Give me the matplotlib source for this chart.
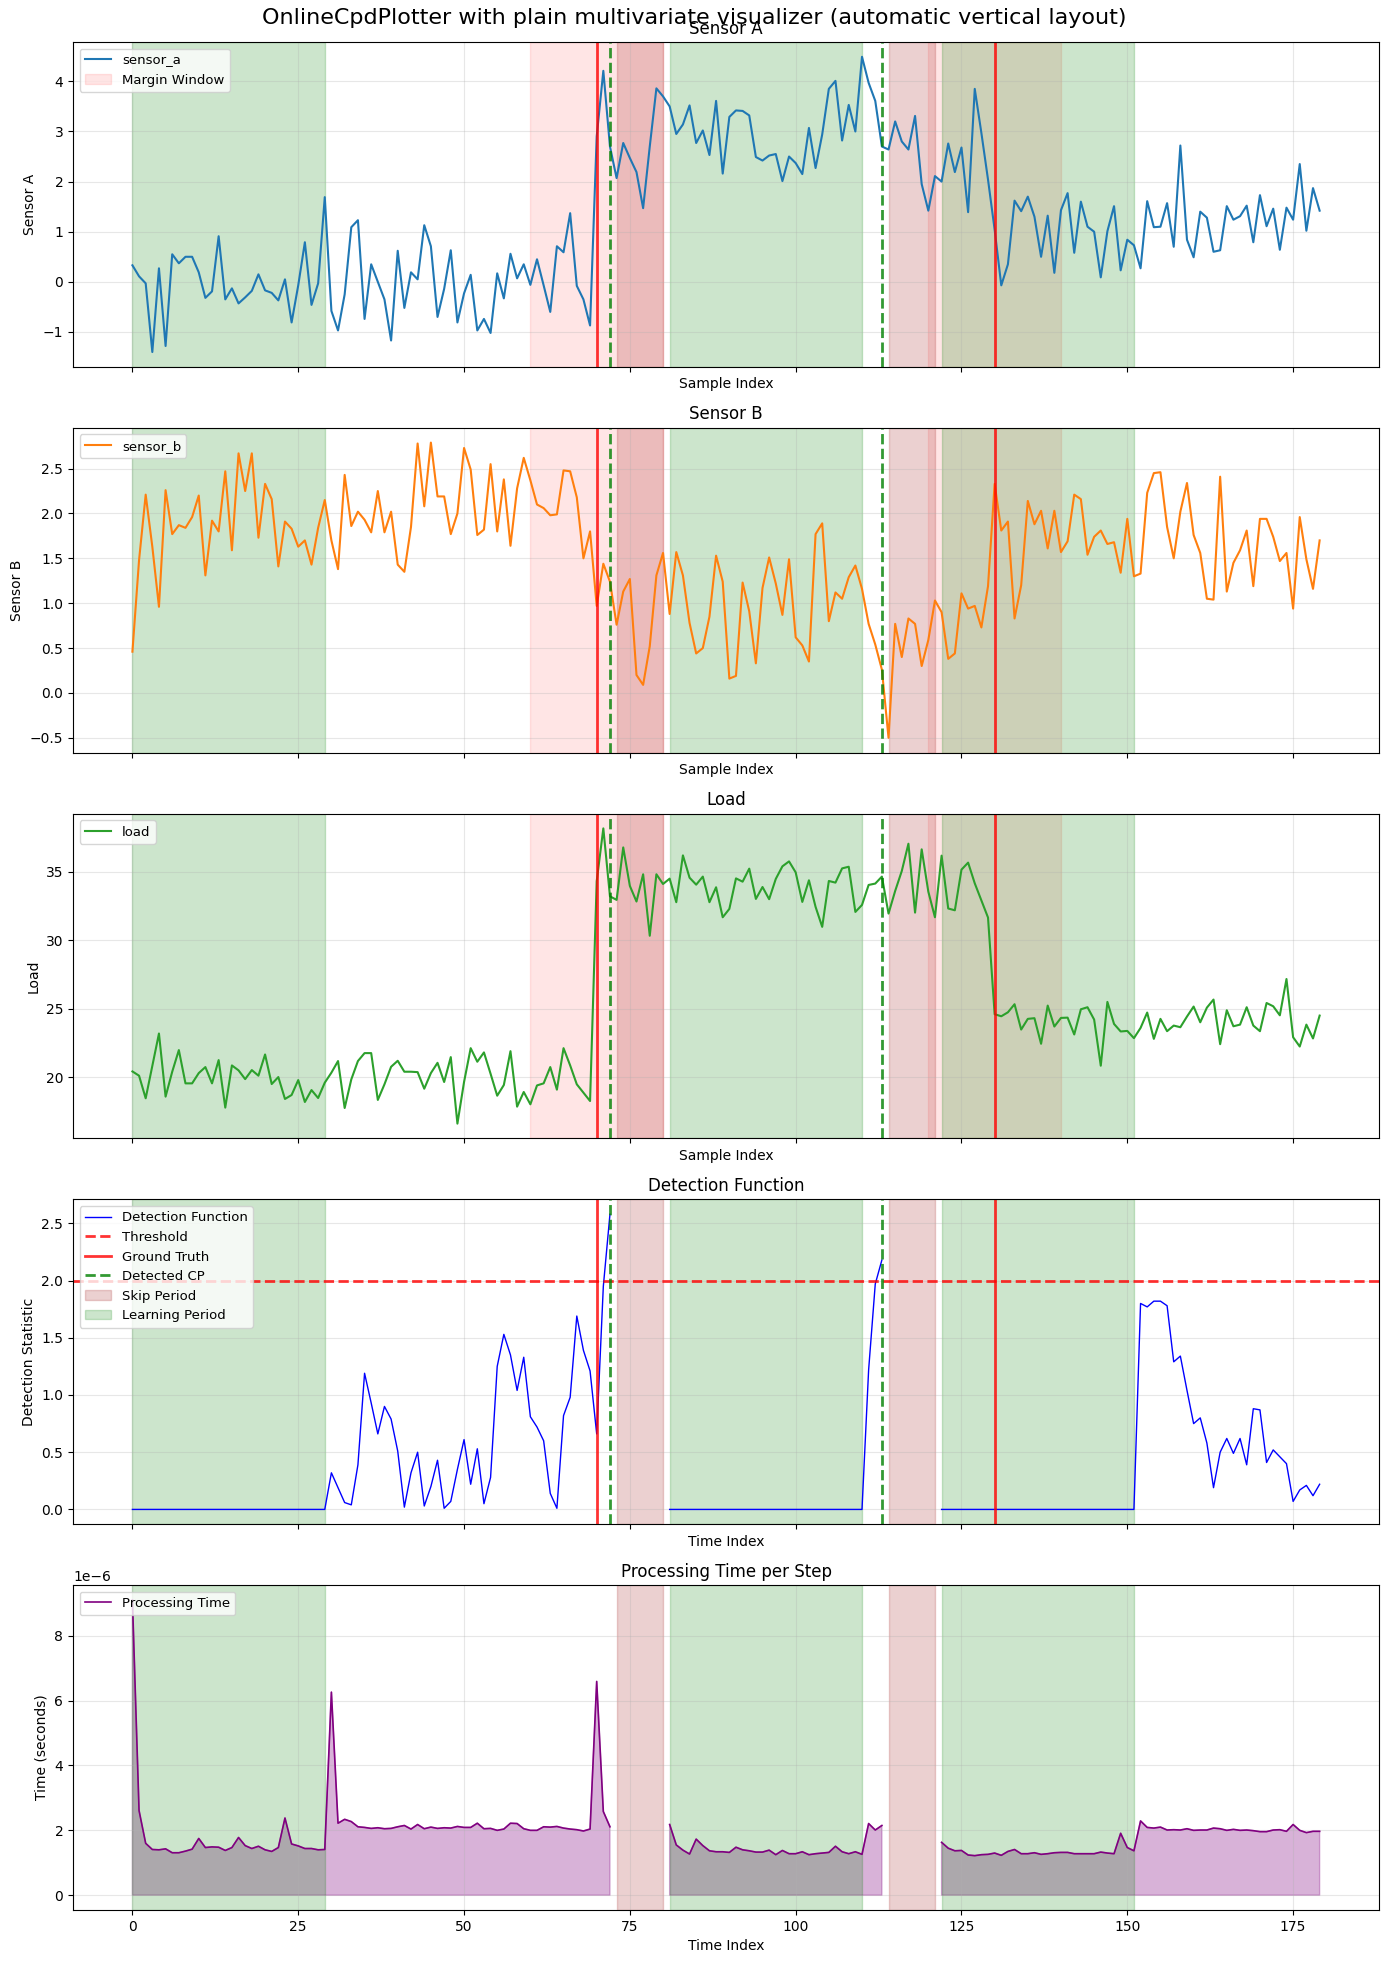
import numpy as np
import matplotlib
matplotlib.use("Agg")
import matplotlib.pyplot as plt

nan = np.nan

# sample index 0..179
sensor_a = [0.33, 0.11, -0.03, -1.40, 0.27, -1.28, 0.55, 0.37, 0.50, 0.50,
            0.19, -0.32, -0.19, 0.91, -0.35, -0.13, -0.43, -0.31, -0.18, 0.15,
            -0.17, -0.22, -0.37, 0.05, -0.81, -0.07, 0.79, -0.46, -0.03, 1.69,
            -0.58, -0.97, -0.25, 1.09, 1.23, -0.74, 0.35, 0.00, -0.35, -1.17,
            0.62, -0.52, 0.19, 0.05, 1.13, 0.71, -0.70, -0.14, 0.63, -0.81,
            -0.23, 0.14, -0.97, -0.74, -1.02, 0.17, -0.33, 0.56, 0.07, 0.35,
            -0.06, 0.45, -0.07, -0.60, 0.71, 0.59, 1.37, -0.08, -0.35, -0.87,
            2.90, 4.21, 2.70, 2.07, 2.77, 2.47, 2.19, 1.47, 2.70, 3.86,
            3.70, 3.50, 2.95, 3.14, 3.52, 2.77, 3.02, 2.53, 3.61, 2.16,
            3.29, 3.42, 3.41, 3.32, 2.49, 2.42, 2.52, 2.55, 2.01, 2.50,
            2.37, 2.15, 3.07, 2.27, 2.94, 3.85, 4.01, 2.82, 3.53, 3.00,
            4.49, 3.97, 3.61, 2.70, 2.64, 3.20, 2.80, 2.64, 3.31, 1.95,
            1.42, 2.11, 2.00, 2.76, 2.19, 2.68, 1.39, 3.85, 2.97, 2.04,
            1.04, -0.07, 0.35, 1.62, 1.41, 1.70, 1.30, 0.50, 1.32, 0.18,
            1.43, 1.77, 0.58, 1.60, 1.10, 1.00, 0.09, 1.01, 1.51, 0.23,
            0.84, 0.73, 0.27, 1.61, 1.09, 1.10, 1.57, 0.70, 2.72, 0.84,
            0.49, 1.40, 1.28, 0.60, 0.63, 1.51, 1.24, 1.31, 1.52, 0.79,
            1.73, 1.11, 1.46, 0.64, 1.48, 1.24, 2.35, 1.02, 1.87, 1.42]

sensor_b = [0.46, 1.48, 2.21, 1.63, 0.96, 2.26, 1.77, 1.87, 1.84, 1.96,
            2.20, 1.31, 1.92, 1.80, 2.47, 1.59, 2.67, 2.25, 2.67, 1.73,
            2.33, 2.16, 1.41, 1.91, 1.83, 1.63, 1.70, 1.43, 1.84, 2.15,
            1.70, 1.38, 2.43, 1.86, 2.02, 1.93, 1.79, 2.25, 1.79, 2.02,
            1.43, 1.35, 1.85, 2.78, 2.08, 2.79, 2.19, 2.19, 1.77, 2.00,
            2.73, 2.49, 1.76, 1.82, 2.55, 1.80, 2.38, 1.64, 2.28, 2.62,
            2.37, 2.10, 2.06, 1.98, 1.99, 2.48, 2.47, 2.18, 1.50, 1.80,
            0.97, 1.44, 1.24, 0.76, 1.13, 1.27, 0.20, 0.09, 0.52, 1.31,
            1.56, 0.88, 1.57, 1.31, 0.78, 0.44, 0.50, 0.85, 1.53, 1.24,
            0.16, 0.19, 1.23, 0.91, 0.33, 1.17, 1.51, 1.22, 0.87, 1.49,
            0.62, 0.53, 0.35, 1.77, 1.89, 0.80, 1.12, 1.05, 1.29, 1.42,
            1.16, 0.77, 0.54, 0.26, -0.50, 0.77, 0.40, 0.83, 0.77, 0.30,
            0.59, 1.03, 0.90, 0.38, 0.44, 1.11, 0.94, 0.97, 0.73, 1.19,
            2.33, 1.81, 1.91, 0.83, 1.20, 2.14, 1.88, 2.03, 1.61, 2.03,
            1.57, 1.69, 2.21, 2.16, 1.54, 1.74, 1.81, 1.66, 1.68, 1.34,
            1.94, 1.30, 1.33, 2.23, 2.45, 2.46, 1.85, 1.50, 2.02, 2.34,
            1.76, 1.56, 1.05, 1.04, 2.41, 1.13, 1.45, 1.59, 1.81, 1.19,
            1.94, 1.94, 1.74, 1.47, 1.56, 0.94, 1.96, 1.49, 1.16, 1.70]

load = [20.41, 20.10, 18.45, 20.80, 23.18, 18.57, 20.39, 21.97, 19.54, 19.54,
        20.29, 20.73, 19.54, 21.24, 17.77, 20.85, 20.49, 19.85, 20.51, 20.10,
        21.65, 19.49, 20.00, 18.40, 18.69, 19.78, 18.18, 19.05, 18.47, 19.59,
        20.32, 21.17, 17.74, 19.83, 21.17, 21.75, 21.75, 18.33, 19.47, 20.75,
        21.19, 20.39, 20.39, 20.36, 19.15, 20.29, 21.04, 19.64, 21.46, 16.60,
        19.64, 22.11, 21.12, 21.80, 20.24, 18.64, 19.42, 21.89, 17.84, 18.91,
        18.01, 19.39, 19.54, 20.73, 19.08, 22.11, 20.85, 19.47, 18.86, 18.25,
        34.30, 38.16, 33.20, 32.94, 36.77, 33.96, 32.82, 34.81, 30.32, 34.81,
        34.10, 34.49, 32.77, 36.19, 34.56, 34.05, 34.64, 32.77, 33.86, 31.67,
        32.28, 34.51, 34.27, 35.22, 33.01, 33.88, 32.99, 34.47, 35.39, 35.75,
        34.95, 32.79, 34.37, 32.43, 30.97, 34.32, 34.20, 35.24, 35.36, 32.06,
        32.57, 34.03, 34.13, 34.64, 31.94, 33.59, 35.05, 37.04, 32.01, 36.63,
        33.54, 31.67, 36.17, 32.31, 32.18, 35.15, 35.66, 34.15, 32.89, 31.65,
        24.59, 24.44, 24.73, 25.32, 23.47, 24.25, 24.30, 22.43, 25.22, 23.69,
        24.32, 24.34, 23.11, 24.95, 25.10, 24.20, 20.83, 25.49, 23.88, 23.33,
        23.37, 22.84, 23.59, 24.71, 22.79, 24.25, 23.35, 23.76, 23.64, 24.42,
        25.15, 24.00, 25.07, 25.66, 22.40, 24.88, 23.71, 23.83, 25.10, 23.76,
        23.35, 25.41, 25.17, 24.51, 27.16, 22.91, 22.23, 23.83, 22.82, 24.49]

detection = [0.0, 0.0, 0.0, 0.0, 0.0, 0.0, 0.0, 0.0, 0.0, 0.0,
             0.0, 0.0, 0.0, 0.0, 0.0, 0.0, 0.0, 0.0, 0.0, 0.0,
             0.0, 0.0, 0.0, 0.0, 0.0, 0.0, 0.0, 0.0, 0.0, 0.0,
             0.32, 0.19, 0.06, 0.04, 0.39, 1.19, 0.93, 0.66, 0.90, 0.79,
             0.51, 0.02, 0.32, 0.50, 0.03, 0.20, 0.43, 0.01, 0.07, 0.35,
             0.61, 0.22, 0.53, 0.05, 0.28, 1.25, 1.53, 1.35, 1.04, 1.33,
             0.81, 0.72, 0.60, 0.14, 0.01, 0.82, 0.98, 1.69, 1.39, 1.21,
             0.66, 1.95, 2.58, nan, nan, nan, nan, nan, nan, nan,
             nan, 0.0, 0.0, 0.0, 0.0, 0.0, 0.0, 0.0, 0.0, 0.0,
             0.0, 0.0, 0.0, 0.0, 0.0, 0.0, 0.0, 0.0, 0.0, 0.0,
             0.0, 0.0, 0.0, 0.0, 0.0, 0.0, 0.0, 0.0, 0.0, 0.0,
             0.0, 1.22, 1.97, 2.18, nan, nan, nan, nan, nan, nan,
             nan, nan, 0.0, 0.0, 0.0, 0.0, 0.0, 0.0, 0.0, 0.0,
             0.0, 0.0, 0.0, 0.0, 0.0, 0.0, 0.0, 0.0, 0.0, 0.0,
             0.0, 0.0, 0.0, 0.0, 0.0, 0.0, 0.0, 0.0, 0.0, 0.0,
             0.0, 0.0, 1.80, 1.77, 1.82, 1.82, 1.78, 1.29, 1.34, 1.04,
             0.75, 0.80, 0.58, 0.19, 0.50, 0.62, 0.49, 0.62, 0.39, 0.88,
             0.87, 0.41, 0.52, 0.46, 0.40, 0.07, 0.17, 0.21, 0.12, 0.22]

# processing time per step, in microseconds
proc_us = [9.10, 2.61, 1.60, 1.41, 1.40, 1.43, 1.31, 1.31, 1.36, 1.42,
           1.75, 1.47, 1.49, 1.48, 1.38, 1.47, 1.78, 1.53, 1.44, 1.51,
           1.40, 1.35, 1.47, 2.38, 1.58, 1.52, 1.44, 1.44, 1.40, 1.41,
           6.26, 2.22, 2.34, 2.27, 2.11, 2.09, 2.06, 2.08, 2.05, 2.06,
           2.11, 2.15, 2.04, 2.18, 2.05, 2.10, 2.06, 2.08, 2.07, 2.12,
           2.09, 2.09, 2.22, 2.05, 2.06, 2.00, 2.04, 2.22, 2.21, 2.05,
           2.00, 2.00, 2.11, 2.10, 2.12, 2.07, 2.04, 2.02, 1.98, 2.04,
           6.59, 2.58, 2.11, nan, nan, nan, nan, nan, nan, nan,
           nan, 2.18, 1.55, 1.39, 1.27, 1.73, 1.53, 1.37, 1.34, 1.34,
           1.32, 1.48, 1.40, 1.37, 1.33, 1.33, 1.39, 1.25, 1.38, 1.28,
           1.28, 1.34, 1.25, 1.28, 1.30, 1.32, 1.51, 1.34, 1.28, 1.34,
           1.26, 2.21, 2.01, 2.15, nan, nan, nan, nan, nan, nan,
           nan, nan, 1.63, 1.45, 1.37, 1.38, 1.24, 1.22, 1.25, 1.26,
           1.30, 1.23, 1.35, 1.41, 1.28, 1.28, 1.31, 1.26, 1.28, 1.31,
           1.32, 1.32, 1.28, 1.28, 1.28, 1.28, 1.33, 1.30, 1.28, 1.91,
           1.47, 1.37, 2.29, 2.09, 2.07, 2.10, 2.01, 2.02, 2.01, 2.05,
           2.00, 2.01, 2.01, 2.07, 2.05, 2.00, 2.03, 2.00, 2.01, 1.99,
           1.96, 1.96, 2.01, 2.02, 1.97, 2.18, 2.00, 1.93, 1.97, 1.97]

threshold = 2.0
ground_truth = [70, 130]
detected_cp = [72, 113]
learning_periods = [(0, 29), (81, 110), (122, 151)]
skip_periods = [(73, 80), (114, 121)]
margin_windows = [(60, 80), (120, 140)]

sensors = [("sensor_a", "Sensor A", sensor_a, "tab:blue"),
           ("sensor_b", "Sensor B", sensor_b, "tab:orange"),
           ("load", "Load", load, "tab:green")]

t = np.arange(len(sensor_a))
proc = np.array(proc_us) * 1e-6
det = np.array(detection)

fig, axes = plt.subplots(5, 1, figsize=(13.89, 19.64), dpi=100, sharex=True)
fig.subplots_adjust(left=0.0526, right=0.9928, top=0.9786, bottom=0.0275, hspace=0.188)
fig.suptitle("OnlineCpdPlotter with plain multivariate visualizer (automatic vertical layout)",
             fontsize=16, y=0.996)


def add_periods(ax, label=False):
    for k, (a, b) in enumerate(skip_periods):
        ax.axvspan(a, b, color="brown", alpha=0.22,
                   label="Skip Period" if (label and k == 0) else None)
    for k, (a, b) in enumerate(learning_periods):
        ax.axvspan(a, b, color="green", alpha=0.2,
                   label="Learning Period" if (label and k == 0) else None)


def add_cps(ax, label=False):
    for k, g in enumerate(ground_truth):
        ax.axvline(g, color="red", lw=2, alpha=0.8,
                   label="Ground Truth" if (label and k == 0) else None)
    for k, d in enumerate(detected_cp):
        ax.axvline(d, color="green", lw=2, ls="--", alpha=0.8,
                   label="Detected CP" if (label and k == 0) else None)


for i, (name, title, vals, col) in enumerate(sensors):
    ax = axes[i]
    ax.plot(t, vals, color=col, lw=1.5, label=name)
    for k, (a, b) in enumerate(margin_windows):
        ax.axvspan(a, b, color="red", alpha=0.1,
                   label="Margin Window" if (i == 0 and k == 0) else None)
    add_periods(ax)
    add_cps(ax)
    ax.set_title(title, fontsize=12)
    ax.set_ylabel(title)
    ax.set_xlabel("Sample Index")
    ax.grid(True, alpha=0.3)
    ax.legend(loc="upper left", fontsize=9.5)

ax = axes[3]
ax.plot(t, det, color="blue", lw=1, label="Detection Function")
ax.axhline(threshold, color="red", ls="--", lw=2, alpha=0.8, label="Threshold")
add_cps(ax, label=True)
add_periods(ax, label=True)
ax.set_title("Detection Function", fontsize=12)
ax.set_ylabel("Detection Statistic")
ax.set_xlabel("Time Index")
ax.grid(True, alpha=0.3)
ax.legend(loc="upper left", fontsize=9.5)

ax = axes[4]
ax.plot(t, proc, color="purple", lw=1.2, label="Processing Time")
ax.fill_between(t, 0, proc, color="purple", alpha=0.3)
add_periods(ax)
ax.set_title("Processing Time per Step", fontsize=12)
ax.set_ylabel("Time (seconds)")
ax.set_xlabel("Time Index")
ax.grid(True, alpha=0.3)
ax.legend(loc="upper left", fontsize=9.5)

fig.savefig("out.png", dpi=100)
